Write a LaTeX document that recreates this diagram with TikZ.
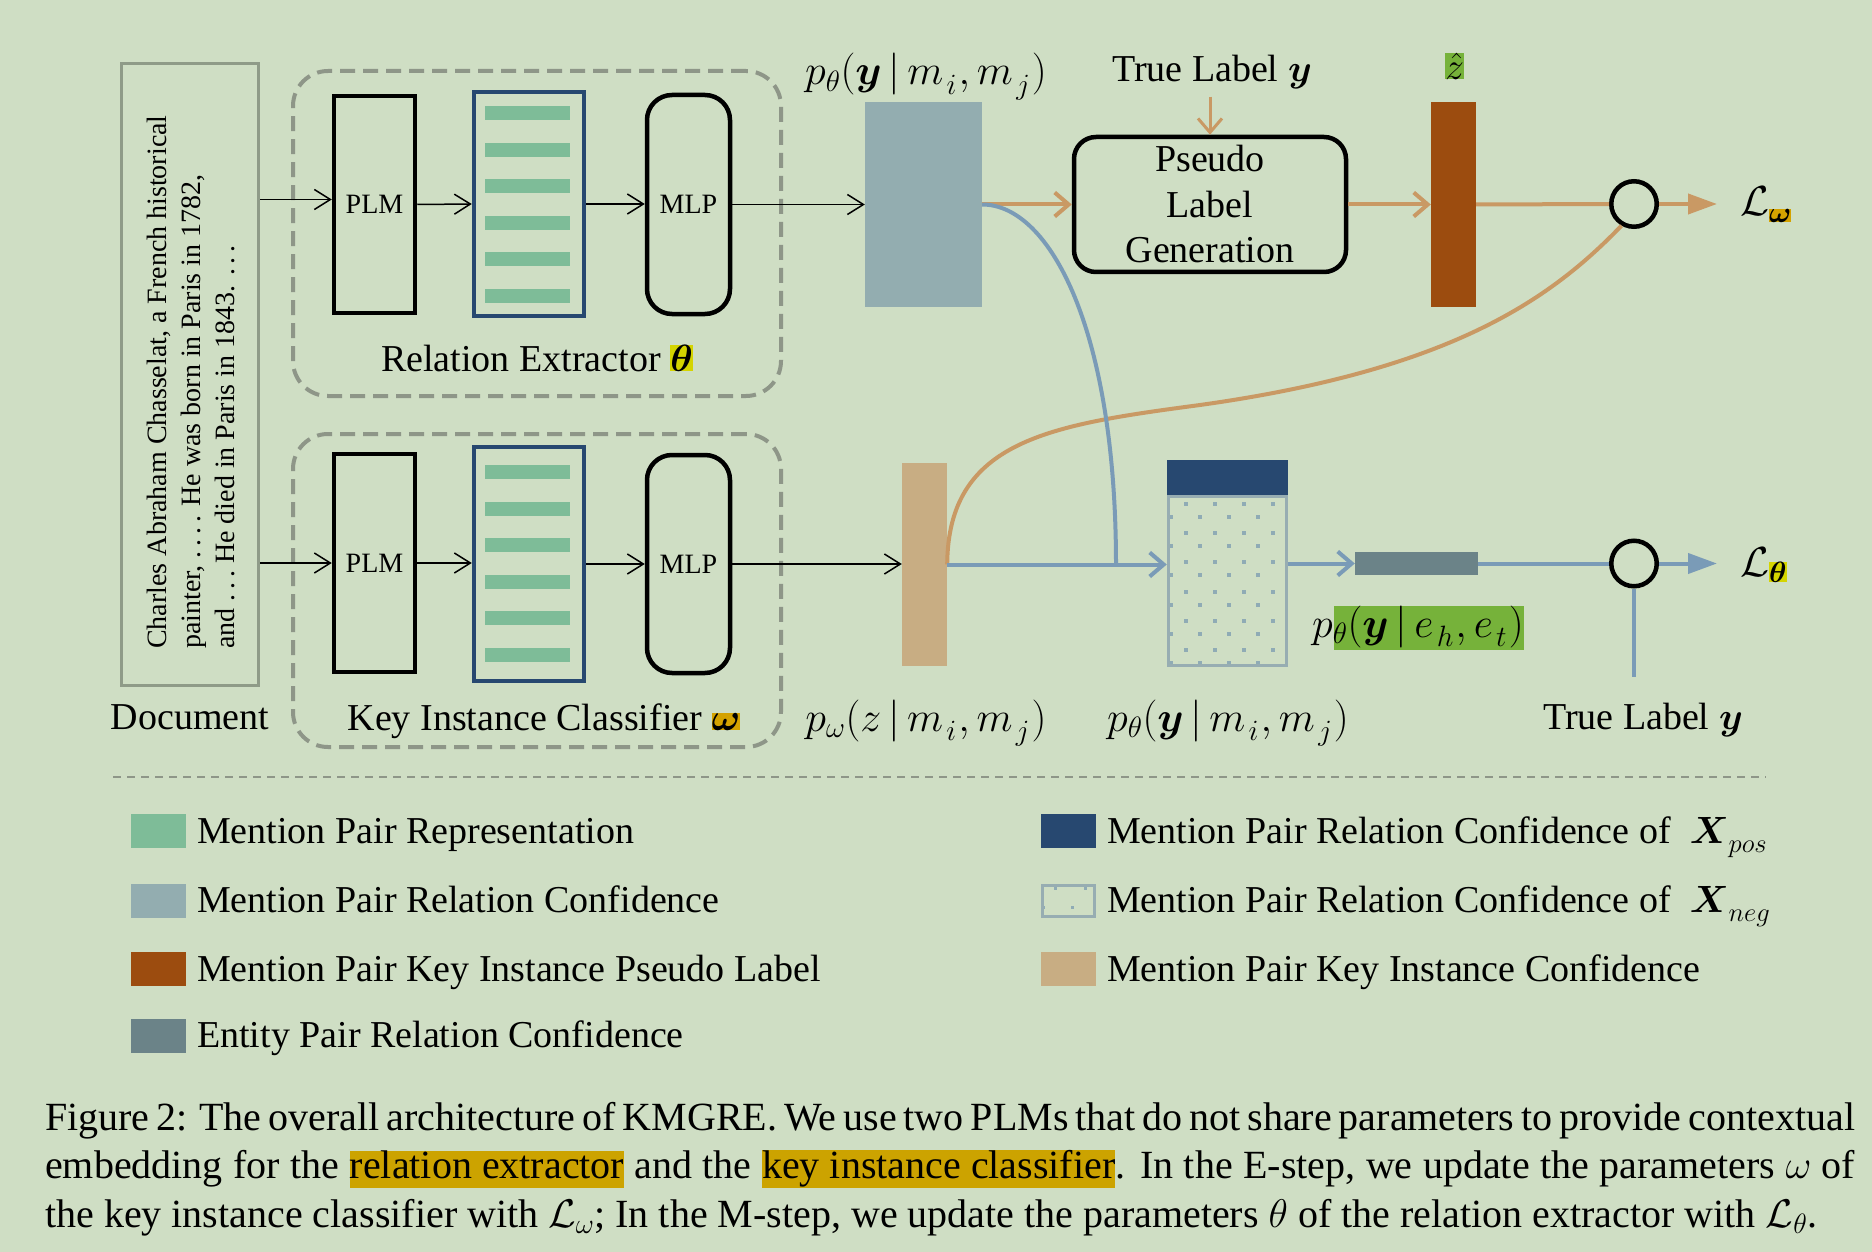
\RequirePackage{fix-cm}
\documentclass[tikz,border=0pt]{standalone}
\usepackage{amsmath}
\usepackage{fontspec}
\setmainfont{Liberation Serif}
\usetikzlibrary{arrows.meta}
\definecolor{bgc}{RGB}{207,222,196}
\definecolor{dashgray}{RGB}{142,150,136}
\definecolor{docgray}{RGB}{143,155,136}
\definecolor{navyc}{RGB}{39,72,112}
\definecolor{stripeg}{RGB}{126,188,152}
\definecolor{rectblue}{RGB}{147,173,176}
\definecolor{brownc}{RGB}{156,76,15}
\definecolor{tanc}{RGB}{200,173,131}
\definecolor{dkgray}{RGB}{107,131,136}
\definecolor{orangec}{RGB}{201,153,100}
\definecolor{bluec}{RGB}{122,155,183}
\definecolor{dotborder}{RGB}{151,173,178}
\definecolor{dotcol}{RGB}{143,171,181}
\definecolor{yellowhl}{RGB}{212,212,0}
\definecolor{goldhl}{RGB}{212,162,0}
\definecolor{caphlc}{RGB}{204,163,0}
\definecolor{greenhl}{RGB}{118,178,58}
\newcommand\hlc[2]{{\setlength{\fboxsep}{0pt}\colorbox{#1}{#2}}}
\newcommand\caphl[1]{{\setlength{\fboxsep}{0pt}\colorbox{caphlc}{\rule[-9.5pt]{0pt}{37pt}#1}}}
\newcommand\bigf{\fontsize{38}{45.5}\selectfont}
\newcommand\capf{\fontsize{40}{48}\selectfont}
\newcommand\mathf{\fontsize{42}{50}\selectfont}
\newcommand\smallf{\fontsize{28}{34}\selectfont}
\newcommand\ellip{.\kern0.17em.\kern0.17em.}
\newcommand\lsub[1]{_{\mkern2mu\lower3.5pt\hbox{$\scriptstyle #1$}\mkern1mu}}
\newcommand\xsub[1]{_{\lower4pt\hbox{$\scriptstyle #1$}}}
\begin{document}
\begin{tikzpicture}[x=1pt,y=-1pt, font=\bigf,
  every node/.style={inner sep=0pt},
  blackbox/.style={draw, line width=4.5pt},
  dashbox/.style={draw=dashgray, line width=4pt, dash pattern=on 15pt off 8pt, rounded corners=35pt},
  tarrow/.style={line width=1.5pt, -{Straight Barb[length=16pt,width=20pt]}},
  oline/.style={draw=orangec, line width=4pt},
  bline/.style={draw=bluec, line width=4pt},
  barb/.style={-{Straight Barb[length=14pt,width=24pt]}},
  tri/.style={-{Triangle[length=29pt,width=20pt]}},
  swatch/.style={minimum width=55pt, minimum height=34pt},
  lostext/.style={anchor=base west},
  mathlabel/.style={anchor=base, font=\mathf}]
\fill[bgc] (0,0) rectangle (1872,1252);
\useasboundingbox (0,0) rectangle (1872,1252);

% dashed module boxes
\node[dashbox, minimum width=488pt, minimum height=325pt] (rebox) at (537,233.5) {};
\node[dashbox, minimum width=488pt, minimum height=313pt] (kicbox) at (537,590.5) {};

% document
\node[draw=docgray, line width=3.5pt, minimum width=137pt, minimum height=622pt] (doc) at (190,374.5) {};
\node[rotate=90, align=left, font=\smallf] (doctext) at (191,382) {Charles Abraham Chasselat, a French historical\\painter, \ellip\kern0.17em. He was born in Paris in 1782,\\and \ellip\ He died in Paris in 1843. \ellip};
\node[anchor=base] (doclabel) at (190,729) {Document};

% relation extractor
\node[blackbox, minimum width=81pt, minimum height=217pt, font=\smallf] (plm1) at (374.5,204.5) {PLM};
\node[draw=navyc, line width=4.5pt, minimum width=110pt, minimum height=224pt] (rep1) at (529,204) {};
\foreach \k in {0,...,5} \fill[stripeg] (485,106+36.6*\k) rectangle (570,120+36.6*\k);
\node[blackbox, rounded corners=25pt, minimum width=83pt, minimum height=219pt, font=\smallf] (mlp1) at (688.5,204.5) {MLP};
\node[anchor=base] (relab) at (537,371) {Relation Extractor \hlc{yellowhl}{$\boldsymbol{\theta}$}};

% key instance classifier
\node[blackbox, minimum width=81pt, minimum height=218pt, font=\smallf] (plm2) at (374.5,563) {PLM};
\node[draw=navyc, line width=4.5pt, minimum width=110pt, minimum height=234pt] (rep2) at (529,564) {};
\foreach \k in {0,...,5} \fill[stripeg] (485,465+36.6*\k) rectangle (570,479+36.6*\k);
\node[blackbox, rounded corners=25pt, minimum width=83pt, minimum height=218pt, font=\smallf] (mlp2) at (688.5,564) {MLP};
\node[anchor=base] (kiclab) at (544,730) {Key Instance Classifier \hlc{goldhl}{$\boldsymbol{\omega}$}};

% thin arrows
\draw[tarrow] ([yshift=5pt]doc.east |- plm1.west) -- ([yshift=5pt]plm1.west);
\draw[tarrow] (plm1.east) -- (rep1.west);
\draw[tarrow] (rep1.east) -- (rep1.east -| mlp1.west);
\draw[tarrow] (doc.east |- plm2.west) -- (plm2.west);
\draw[tarrow] (plm2.east) -- (plm2.east -| rep2.west);
\draw[tarrow] (rep2.east |- mlp2.west) -- (mlp2.west);

% upper right part
\node[fill=rectblue, minimum width=117pt, minimum height=205pt] (conf1) at (923.5,204.5) {};
\node[mathlabel] (ptop) at (926,85) {$p_\theta(\boldsymbol{y}\,|\,m\lsub{i},m\lsub{j})$};
\draw[tarrow] (mlp1.east) -- (mlp1.east -| conf1.west);
\node[blackbox, rounded corners=22pt, minimum width=272pt, minimum height=135pt, align=center] (pseudo) at (1210,204.5) {Pseudo\\Label\\Generation};
\node[anchor=base] (true1) at (1212,82) {True Label $\boldsymbol{y}$};
\node[fill=brownc, minimum width=45pt, minimum height=205pt] (zbar) at (1453.5,204.5) {};
\node (zhat) at (1454.5,66) {\hlc{greenhl}{$\hat{z}$}};
\node[circle, draw, line width=4.5pt, minimum size=45.5pt] (c1) at (1634,204) {};
\coordinate (Lwend) at (1717,204);
\node[anchor=base west, font=\fontsize{42}{48}\selectfont] (Lw) at (1740,216) {$\mathcal{L}_{\hlc{goldhl}{$\scriptstyle\boldsymbol{\omega}$}}$};

% lower right part
\node[fill=tanc, minimum width=45pt, minimum height=203pt] (tan) at (924.5,564.5) {};
\draw[tarrow] (mlp2.east) -- (mlp2.east -| tan.west);
\node[mathlabel] (pom) at (926,731) {$p_\omega(z\,|\,m\lsub{i},m\lsub{j})$};
\foreach \r in {0,...,5} {
  \foreach \c in {0,...,3} {
    \fill[dotcol] (1184+29*\c,502+29.2*\r) rectangle +(4,4);
    \fill[dotcol] (1169+29*\c,515+29.2*\r) rectangle +(4,4);
  }
}
\node[draw=dotborder, line width=3.5pt, minimum width=118pt, minimum height=169pt] (negbox) at (1227.5,581) {};
\node[fill=navyc, minimum width=121pt, minimum height=35pt] (posbar) at (1227.5,477.5) {};
\node[mathlabel] (ptl) at (1228,731) {$p_\theta(\boldsymbol{y}\,|\,m\lsub{i},m\lsub{j})$};
\node[fill=dkgray, minimum width=123pt, minimum height=23pt] (dgbar) at (1416.5,563.5) {};
\fill[greenhl] (1334,606) rectangle (1524,650);
\node[anchor=base west, font=\mathf] (pent) at (1312,637) {$p_\theta(\boldsymbol{y}\,|\,e\lsub{h},e\lsub{t})$};
\node[circle, draw, line width=4.5pt, minimum size=45.5pt] (c2) at (1634,563.5) {};
\coordinate (Ltend) at (1717,563.5);
\coordinate (join) at (1116,564.5);
\coordinate (tl2top) at (1634,677);
\node[anchor=base] (true2) at (1643,729) {True Label $\boldsymbol{y}$};
\node[anchor=base west, font=\fontsize{42}{48}\selectfont] (Lt) at (1740,576) {$\mathcal{L}_{\hlc{yellowhl}{$\scriptstyle\boldsymbol{\theta}$}}$};

% orange connectors
\draw[oline, barb] (conf1.east) -- (pseudo.west);
\draw[oline, barb, line width=3pt] ([yshift=-7pt]pseudo.north |- true1.south) -- (pseudo.north);
\draw[oline, barb] (pseudo.east) -- (zbar.west);
\draw[oline] (zbar.east) -- (c1.west);
\draw[oline, tri] (c1.east) -- (Lwend);
\coordinate (omid) at (1200,405);
\draw[oline] (tan.east) .. controls (948,440) and (1050,425) .. (omid) .. controls (1450,370) and (1550,300) .. (c1.240);

% blue connectors
\draw[bline] (conf1.east) .. controls (1050,204.5) and (1116,330) .. (join);
\draw[bline, barb] (tan.east) -- (tan.east -| negbox.west);
\draw[bline, barb] (negbox.east |- dgbar.west) -- (dgbar.west);
\draw[bline] (dgbar.east) -- (c2.west);
\draw[bline, tri] (c2.east) -- (Ltend);
\draw[bline] (c2.south) -- (tl2top);

% separator
\coordinate (sepl) at (113,777);
\coordinate (sepr) at (1766,777);
\draw[dashgray, line width=2pt, dash pattern=on 8pt off 6pt] (sepl) -- (sepr);

% legend
\node[swatch, fill=stripeg] (s1) at (158.5,831) {};
\node[lostext] (l1) at (197,843) {Mention Pair Representation};
\node[swatch, fill=rectblue] (s2) at (158.5,901) {};
\node[lostext] (l2) at (197,912) {Mention Pair Relation Confidence};
\node[swatch, fill=brownc] (s3) at (158.5,969) {};
\node[lostext] (l3) at (197,981) {Mention Pair Key Instance Pseudo Label};
\node[swatch, fill=dkgray] (s4) at (158.5,1036) {};
\node[lostext] (l4) at (197,1047) {Entity Pair Relation Confidence};
\node[swatch, fill=navyc] (s5) at (1068.5,831) {};
\node[lostext] (l5) at (1107,843) {Mention Pair Relation Confidence of~ $\boldsymbol{X}\xsub{pos}$};
\fill[dotcol] (1054,887) rectangle +(3,3);
\fill[dotcol] (1084,887) rectangle +(3,3);
\fill[dotcol] (1042,906) rectangle +(3,3);
\fill[dotcol] (1071,906) rectangle +(3,3);
\node[swatch, draw=dotborder, line width=3pt, minimum width=52pt, minimum height=31pt] (s6) at (1068.5,901) {};
\node[lostext] (l6) at (1107,912) {Mention Pair Relation Confidence of~ $\boldsymbol{X}\xsub{neg}$};
\node[swatch, fill=tanc] (s7) at (1068.5,969) {};
\node[lostext] (l7) at (1107,981) {Mention Pair Key Instance Confidence};

% caption
\node[anchor=base west, font=\capf] (cap1) at (45,1130) {\makebox[1810pt][s]{Figure 2: The overall architecture of KMGRE. We use two PLMs that do not share parameters to provide contextual}};
\node[anchor=base west, font=\capf] (cap2) at (45,1178.5) {\makebox[1810pt][s]{embedding for the \caphl{relation extractor} and the \caphl{key instance classifier}. In the E-step, we update the parameters $\omega$ of}};
\node[anchor=base west, font=\capf] (cap3) at (45,1227) {the key instance classifier with $\mathcal{L}_\omega$; In the M-step, we update the parameters $\theta$ of the relation extractor with $\mathcal{L}_\theta$.};
\end{tikzpicture}
\end{document}
